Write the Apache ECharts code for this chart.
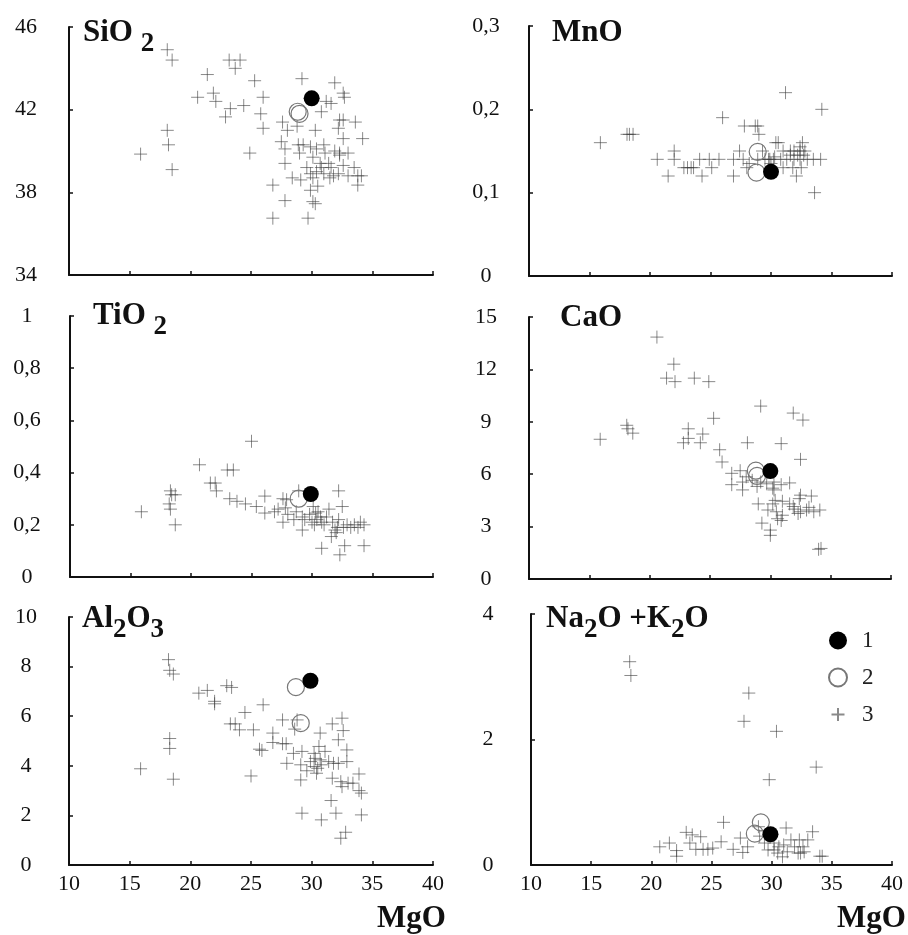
<!DOCTYPE html>
<html>
<head>
<meta charset="utf-8">
<script src="https://cdn.jsdelivr.net/npm/echarts@6/dist/echarts.min.js"></script>
<style>
  html, body { margin: 0; padding: 0; background: #fff; }
  #chart { width: 908px; height: 935px; }
</style>
</head>
<body>
<div id="chart"></div>
<script>
// x = MgO, y = oxide (wt.%); 1 = filled dot, 2 = open circle, 3 = crosses
const mgoTicks = [10, 15, 20, 25, 30, 35, 40]

const sio2Ticks = [34, 38, 42, 46]
const sio2_1 = [[30.0, 42.55]]
const sio2_2 = [[28.85, 41.9], [29.0, 41.8]]
const sio2_3 = [
  [18.1, 44.9], [18.5, 44.4], [15.9, 39.85], [18.1, 41.0], [18.2, 40.3], [18.5, 39.1],
  [21.4, 43.7], [20.6, 42.6], [21.9, 42.8], [22.1, 42.4], [23.2, 44.4], [24.1, 44.4], [23.7, 44.0],
  [25.3, 43.4], [26.0, 42.6], [24.4, 42.2], [23.3, 42.05], [22.9, 41.65], [25.8, 41.8], [26.0, 41.1],
  [24.9, 39.9], [29.2, 43.5], [27.6, 41.4], [28.0, 41.0], [28.8, 41.2], [30.3, 41.0], [31.9, 43.3],
  [32.6, 42.8], [32.7, 42.6], [31.2, 42.4], [31.6, 42.3], [30.8, 41.9], [32.3, 41.5], [32.6, 41.5],
  [33.6, 41.4], [32.2, 41.1], [34.2, 40.6], [32.6, 40.6], [27.5, 40.45], [27.8, 40.1], [27.8, 39.4],
  [26.8, 38.35], [27.8, 37.6], [26.8, 36.75], [29.7, 36.75], [28.4, 38.7], [29.1, 38.6], [29.9, 38.1],
  [30.1, 37.55], [30.3, 37.45], [30.1, 38.7], [30.5, 38.3], [28.9, 40.3], [29.3, 40.3], [29.0, 39.9],
  [29.9, 40.2], [30.4, 40.1], [30.1, 39.7], [31.0, 40.3], [31.1, 39.9], [30.7, 39.4], [30.8, 39.2],
  [30.4, 39.0], [31.4, 39.4], [31.6, 39.2], [31.9, 40.0], [32.3, 39.9], [33.0, 39.9], [32.6, 39.3],
  [32.2, 38.9], [31.8, 38.8], [33.0, 38.8], [33.5, 39.2], [33.8, 38.8], [34.1, 38.8], [33.8, 38.35],
  [29.6, 39.2], [29.9, 38.9], [31.0, 38.9], [31.5, 38.7], [32.3, 39.8]
]

const mnoTicks = [0, 0.1, 0.2, 0.3]
const mno_1 = [[30.0, 0.125]]
const mno_2 = [[28.9, 0.149], [28.8, 0.124]]
const mno_3 = [
  [15.9, 0.16], [18.1, 0.17], [18.3, 0.17], [18.6, 0.17], [20.6, 0.14], [21.5, 0.12], [22.0, 0.15],
  [22.0, 0.14], [22.8, 0.13], [23.1, 0.13], [23.4, 0.13], [23.6, 0.13], [24.1, 0.14], [24.9, 0.14],
  [25.7, 0.14], [24.3, 0.12], [25.1, 0.13], [26.0, 0.19], [26.9, 0.12], [26.9, 0.14], [27.4, 0.15],
  [27.7, 0.14], [27.8, 0.18], [28.7, 0.18], [28.9, 0.18], [29.0, 0.17], [28.0, 0.13], [28.9, 0.14],
  [29.3, 0.15], [31.2, 0.22], [34.2, 0.20], [33.6, 0.10], [30.4, 0.16], [30.6, 0.16], [32.6, 0.16],
  [32.4, 0.155], [31.0, 0.15], [31.6, 0.15], [31.9, 0.15], [32.4, 0.15], [32.8, 0.15], [30.2, 0.14],
  [30.8, 0.14], [31.3, 0.14], [31.9, 0.14], [32.4, 0.14], [33.0, 0.14], [33.5, 0.14], [34.1, 0.14],
  [31.0, 0.13], [31.8, 0.13], [32.5, 0.13], [32.1, 0.12], [29.9, 0.14], [30.3, 0.143], [29.5, 0.14],
  [29.8, 0.14], [31.6, 0.145], [32.2, 0.145], [32.7, 0.145], [30.0, 0.135], [28.2, 0.135]
]

const tio2Ticks = [0, 0.2, 0.4, 0.6, 0.8, 1]
const tio2_1 = [[29.9, 0.318]]
const tio2_2 = [[28.9, 0.30]]
const tio2_3 = [
  [15.9, 0.25], [18.3, 0.33], [18.4, 0.315], [18.7, 0.315], [18.2, 0.28], [18.3, 0.26], [18.7, 0.2],
  [20.7, 0.43], [21.6, 0.36], [22.0, 0.36], [22.1, 0.33], [23.0, 0.41], [23.5, 0.41], [25.0, 0.52],
  [23.2, 0.30], [23.8, 0.29], [24.5, 0.28], [25.4, 0.27], [26.1, 0.245], [26.1, 0.31], [26.9, 0.25],
  [27.2, 0.26], [27.8, 0.265], [27.6, 0.30], [27.9, 0.296], [27.6, 0.21], [28.9, 0.33], [28.5, 0.22],
  [29.2, 0.23], [29.2, 0.18], [29.4, 0.22], [30.1, 0.27], [30.3, 0.245], [30.4, 0.22], [30.0, 0.21],
  [30.7, 0.23], [30.8, 0.21], [31.4, 0.26], [31.7, 0.21], [31.9, 0.18], [31.6, 0.155], [32.2, 0.22],
  [32.2, 0.33], [32.5, 0.27], [32.6, 0.19], [32.9, 0.2], [33.2, 0.19], [33.5, 0.2], [33.8, 0.19],
  [34.3, 0.2], [30.8, 0.11], [32.7, 0.12], [32.3, 0.085], [34.3, 0.12], [34.0, 0.21], [32.1, 0.19],
  [28.0, 0.24], [28.7, 0.25], [30.5, 0.25], [31.0, 0.2], [29.8, 0.24], [30.2, 0.2], [31.2, 0.23],
  [32.0, 0.17]
]

const caoTicks = [0, 3, 6, 9, 12, 15]
const cao_1 = [[30.0, 6.18]]
const cao_2 = [[28.8, 6.2], [28.9, 5.9]]
const cao_3 = [
  [15.9, 8.0], [18.1, 8.8], [18.2, 8.6], [18.6, 8.35], [20.6, 13.85], [22.0, 12.3], [21.4, 11.5],
  [22.1, 11.3], [23.7, 11.5], [24.9, 11.3], [25.3, 9.2], [23.2, 8.6], [22.8, 7.8], [23.2, 8.05],
  [24.2, 7.8], [24.4, 8.3], [25.8, 7.4], [26.0, 6.7], [29.2, 9.9], [28.1, 7.8], [30.9, 7.75],
  [31.9, 9.5], [32.7, 9.1], [32.5, 6.85], [26.8, 6.05], [27.5, 6.2], [28.0, 5.85], [27.7, 5.55],
  [26.8, 5.4], [27.7, 5.1], [28.5, 5.65], [28.9, 5.3], [29.2, 5.55], [29.7, 5.45], [30.3, 5.55],
  [30.9, 5.4], [31.6, 5.5], [30.2, 5.2], [30.3, 5.1], [29.0, 4.3], [29.8, 3.95], [30.2, 4.3],
  [30.5, 3.85], [29.3, 3.2], [30.4, 4.5], [31.0, 4.45], [31.6, 4.3], [31.9, 4.15], [32.0, 4.0],
  [32.5, 3.85], [33.0, 3.95], [33.2, 4.1], [33.6, 3.85], [34.1, 3.95], [32.5, 4.8], [32.4, 4.6],
  [33.4, 4.75], [32.3, 3.75], [30.0, 2.8], [30.0, 2.5], [30.6, 3.45], [30.9, 3.35], [31.0, 3.65],
  [34.0, 1.7], [34.2, 1.75]
]

const al2o3Ticks = [0, 2, 4, 6, 8, 10]
const al2o3_1 = [[29.9, 7.43]]
const al2o3_2 = [[28.7, 7.17], [29.1, 5.72]]
const al2o3_3 = [
  [15.9, 3.88], [18.2, 8.28], [18.3, 7.85], [18.6, 7.7], [18.3, 5.1], [18.3, 4.7], [18.6, 3.46],
  [20.7, 6.93], [21.4, 7.04], [22.0, 6.6], [22.0, 6.5], [23.0, 7.23], [23.4, 7.16], [24.5, 6.15],
  [23.3, 5.69], [23.7, 5.69], [24.05, 5.45], [25.2, 5.45], [26.0, 6.46], [25.7, 4.67], [25.9, 4.62],
  [25.0, 3.59], [26.8, 5.32], [26.8, 4.94], [27.6, 5.85], [27.6, 4.89], [27.9, 4.89], [28.6, 5.48],
  [28.8, 5.85], [27.95, 4.1], [28.5, 4.5], [29.2, 4.58], [29.1, 4.04], [29.1, 3.43], [29.2, 2.09],
  [30.7, 5.32], [30.6, 4.78], [30.2, 4.5], [29.9, 4.17], [30.2, 3.97], [30.4, 3.7], [30.7, 4.24],
  [30.8, 4.04], [31.1, 4.58], [31.4, 4.17], [31.8, 4.1], [32.2, 4.1], [31.7, 5.69], [32.5, 5.92],
  [32.6, 5.42], [32.2, 5.05], [32.9, 4.64], [33.9, 3.67], [31.7, 3.5], [32.4, 3.36], [32.5, 3.16],
  [33.0, 3.3], [33.4, 3.3], [33.9, 3.0], [34.1, 2.9], [31.6, 2.6], [32.0, 2.09], [30.8, 1.82],
  [34.1, 2.02], [32.4, 1.08], [32.8, 1.32], [32.9, 4.17], [30.3, 4.3], [30.5, 3.9], [29.6, 3.8]
]

const alkTicks = [0, 2, 4]
const alk_1 = [[29.9, 0.49]]
const alk_2 = [[29.1, 0.68], [28.6, 0.5]]
const alk_3 = [
  [18.2, 3.24], [18.3, 3.02], [28.1, 2.74], [27.7, 2.29], [30.4, 2.13], [29.8, 1.36], [33.7, 1.56],
  [26.0, 0.68], [20.7, 0.29], [21.5, 0.35], [22.1, 0.23], [22.1, 0.14], [22.9, 0.52], [23.4, 0.48],
  [23.2, 0.35], [23.7, 0.25], [24.1, 0.45], [24.3, 0.25], [24.7, 0.25], [25.1, 0.27], [25.8, 0.37],
  [26.8, 0.25], [27.4, 0.43], [27.6, 0.2], [28.0, 0.29], [28.9, 0.61], [29.0, 0.46], [29.4, 0.35],
  [29.7, 0.24], [30.2, 0.24], [30.5, 0.19], [30.9, 0.13], [31.2, 0.59], [31.0, 0.32], [31.6, 0.4],
  [31.9, 0.29], [32.3, 0.4], [32.6, 0.29], [33.0, 0.4], [32.4, 0.19], [33.4, 0.53], [34.0, 0.14],
  [34.2, 0.14], [30.2, 0.35], [30.6, 0.29], [31.3, 0.21], [32.2, 0.19], [32.7, 0.21]
]

const FONT = 'Liberation Serif'
const plus = 'path://M7,0L7,14M0,7L14,7'
// same cross with an empty margin so the legend icon stays small
const plusIcon = 'path://M0,0M18,18M9,2.5L9,15.5M2.5,9L15.5,9'
const comma = v => String(v).replace('.', ',')

const panels = [
  { title: '{b|SiO }{s|2}', tl: 83, tt: 17, grid: { left: 69, top: 27, width: 364, height: 248 }, ticks: sio2Ticks, d1: sio2_1, d2: sio2_2, d3: sio2_3, xLab: false },
  { title: '{b|MnO}', tl: 552, tt: 17, grid: { left: 529, top: 26, width: 363, height: 250 }, ticks: mnoTicks, d1: mno_1, d2: mno_2, d3: mno_3, xLab: false },
  { title: '{b|TiO }{s|2}', tl: 93, tt: 300, grid: { left: 70, top: 316, width: 363, height: 261 }, ticks: tio2Ticks, d1: tio2_1, d2: tio2_2, d3: tio2_3, xLab: false },
  { title: '{b|CaO}', tl: 560, tt: 302, grid: { left: 529, top: 317, width: 362, height: 262 }, ticks: caoTicks, d1: cao_1, d2: cao_2, d3: cao_3, xLab: false },
  { title: '{b|Al}{s|2}{b|O}{s|3}', tl: 82, tt: 603, grid: { left: 69, top: 617, width: 364, height: 248 }, ticks: al2o3Ticks, d1: al2o3_1, d2: al2o3_2, d3: al2o3_3, xLab: true },
  { title: '{b|Na}{s|2}{b|O +K}{s|2}{b|O}', tl: 546, tt: 603, grid: { left: 531, top: 614, width: 361, height: 251 }, ticks: alkTicks, d1: alk_1, d2: alk_2, d3: alk_3, xLab: true }
]

const rich = {
  b: { fontFamily: FONT, fontWeight: 'bold', fontSize: 31, lineHeight: 34, verticalAlign: 'top', color: '#111' },
  s: { fontFamily: FONT, fontWeight: 'bold', fontSize: 27, lineHeight: 41, verticalAlign: 'bottom', color: '#111' }
}

const axisLine = { show: true, onZero: false, lineStyle: { color: '#111', width: 2 } }
const axisTick = { show: true, inside: true, length: 4, lineStyle: { color: '#111', width: 1.5 } }

const option = {
  backgroundColor: '#fff',
  animation: false,
  title: panels.map(p => ({
    text: p.title, left: p.tl, top: p.tt, padding: 0,
    textStyle: { rich }
  })),
  grid: panels.map(p => p.grid),
  xAxis: panels.map((p, i) => ({
    type: 'value', gridIndex: i, min: 10, max: 40, interval: 5,
    axisLine, splitLine: { show: false },
    axisTick: { ...axisTick, customValues: mgoTicks },
    axisLabel: { show: p.xLab, customValues: mgoTicks, fontFamily: FONT, fontSize: 22, color: '#111', margin: 8 }
  })),
  yAxis: panels.map((p, i) => ({
    type: 'value', gridIndex: i, min: p.ticks[0], max: p.ticks[p.ticks.length - 1],
    axisLine, splitLine: { show: false },
    axisTick: { ...axisTick, customValues: p.ticks },
    axisLabel: { customValues: p.ticks, formatter: comma, align: 'center', margin: 43, fontFamily: FONT, fontSize: 22, color: '#111' }
  })),
  legend: {
    data: ['1', '2', { name: '3', icon: plusIcon }], orient: 'vertical', left: 828, top: 629, padding: 0,
    itemWidth: 18, itemHeight: 18, itemGap: 14, selectedMode: false,
    textStyle: { fontFamily: FONT, fontSize: 23, color: '#222', lineHeight: 22, padding: [0, 0, 0, 10] }
  },
  graphic: [
    { type: 'text', left: 377, top: 903, style: { text: 'MgO', font: 'bold 31px "Liberation Serif"', fill: '#111' } },
    { type: 'text', left: 837, top: 903, style: { text: 'MgO', font: 'bold 31px "Liberation Serif"', fill: '#111' } }
  ],
  series: []
}

panels.forEach((p, i) => {
  option.series.push(
    { name: '3', type: 'scatter', xAxisIndex: i, yAxisIndex: i, data: p.d3, symbol: plus, symbolSize: 13, silent: true,
      itemStyle: { color: 'rgba(0,0,0,0)', borderColor: 'rgba(60,60,60,0.6)', borderWidth: 1, opacity: 1 } },
    { name: '2', type: 'scatter', xAxisIndex: i, yAxisIndex: i, data: p.d2, symbol: 'circle', symbolSize: 17, silent: true,
      itemStyle: { color: 'rgba(255,255,255,0)', borderColor: '#777', borderWidth: 1.2, opacity: 1 } },
    { name: '1', type: 'scatter', xAxisIndex: i, yAxisIndex: i, data: p.d1, symbol: 'circle', symbolSize: 16, silent: true,
      itemStyle: { color: '#000', opacity: 1 } }
  )
})

const chart = echarts.init(document.getElementById('chart'))
chart.setOption(option)
</script>
</body>
</html>
